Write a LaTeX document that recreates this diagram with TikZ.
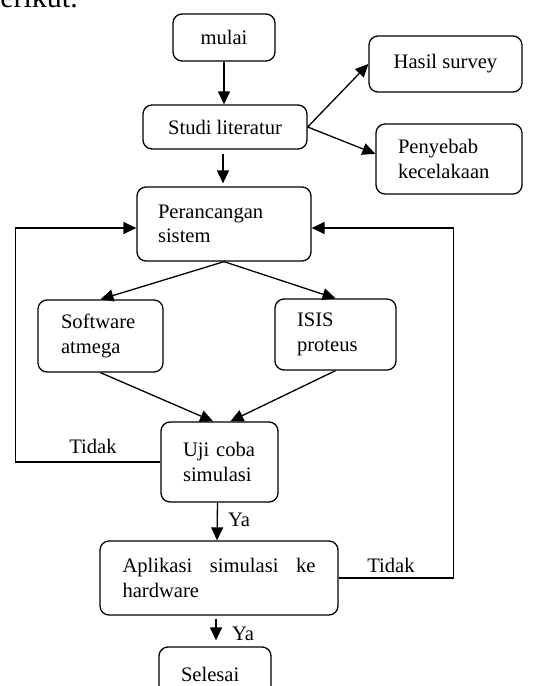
\documentclass[tikz,border=0pt]{standalone}
\usepackage{fontspec}
\setmainfont{Liberation Serif}
\usetikzlibrary{arrows.meta,calc}
\begin{document}
\begin{tikzpicture}[x=1pt,y=-1pt,
  box/.style={draw,rounded corners=9pt,line width=1.3pt,inner sep=0pt,
    font=\fontsize{20.6}{24.5}\selectfont},
  arr/.style={line width=1.3pt,-{Triangle[length=13pt,width=12pt]}},
  lbl/.style={inner sep=0pt,font=\fontsize{20.6}{24.5}\selectfont},
  lnk/.style={line width=1.3pt}]
\useasboundingbox (0,0) rectangle (536,686);
\node[anchor=base east,inner sep=0pt,font=\fontsize{30}{36}\selectfont] (top) at (78,7) {berikut.};
\node[box,minimum width=102pt,minimum height=47pt] (mulai) at (224,37.5) {mulai};
\node[box,minimum width=164pt,minimum height=44pt] (studi) at (225,127) {Studi literatur};
\node[box,minimum width=153pt,minimum height=56pt] (hasil) at (445.5,64) {Hasil survey};
\node[box,minimum width=146pt,minimum height=70pt,text width=102pt,align=left] (penyebab) at (449,159) {Penyebab\\kecelakaan};
\node[box,minimum width=174pt,minimum height=74pt,text width=132pt,align=left] (peran) at (224,224) {Perancangan\\sistem};
\node[box,minimum width=125pt,minimum height=72pt,text width=79pt,align=left] (soft) at (100.5,336) {Software\\atmega};
\node[box,minimum width=121pt,minimum height=71pt,text width=77pt,align=left] (isis) at (335.5,334.5) {ISIS\\proteus};
\node[box,minimum width=117pt,minimum height=80pt,text width=73pt,align=left] (uji) at (219.5,462) {Uji coba\\simulasi};
\node[box,minimum width=238pt,minimum height=74pt,text width=193pt,align=justify] (apl) at (219,578) {Aplikasi simulasi ke hardware};
\node[box,minimum width=112pt,minimum height=54pt,text width=68pt,align=left] (selesai) at (215,674) {Selesai};
\node[lbl] (tidak1) at (93,446) {Tidak};
\node[lbl] (tidak2) at (391,565) {Tidak};
\node[lbl] (ya1) at (239,520) {Ya};
\node[lbl] (ya2) at (243,634) {Ya};
\draw[arr] (mulai.south) -- (mulai.south |- studi.north);
\draw[arr,shorten <=4pt,shorten >=3pt] ($(studi.south)+(-2,0)$) -- ($(peran.north)+(-1,0)$);
\draw[arr] (studi.east) -- (hasil.west);
\draw[arr] (studi.east) -- (penyebab.176);
\draw[arr] (peran.south) -- (soft.north);
\draw[arr] (peran.south) -- (isis.north);
\draw[arr] (soft.south) -- (uji.99);
\draw[arr] (isis.south) -- (uji.75);
\draw[lnk] (uji.west) -- ++(-145,0) coordinate (lc) -- (lc |- 0,228) coordinate (lt);
\draw[arr] (lt) -- (peran.west |- lt);
\draw[arr] ($(uji.south)+(-2,0)$) -- ($(apl.north)+(-2,0)$);
\draw[lnk] (apl.east) -- ++(115,0) coordinate (rc) -- (rc |- 0,228) coordinate (rt);
\draw[arr] (rt) -- (peran.east |- rt);
\draw[arr,shorten <=3pt,shorten >=6pt] ($(apl.south)+(-3,0)$) -- ($(selesai.north)+(1,0)$);
\end{tikzpicture}
\end{document}
